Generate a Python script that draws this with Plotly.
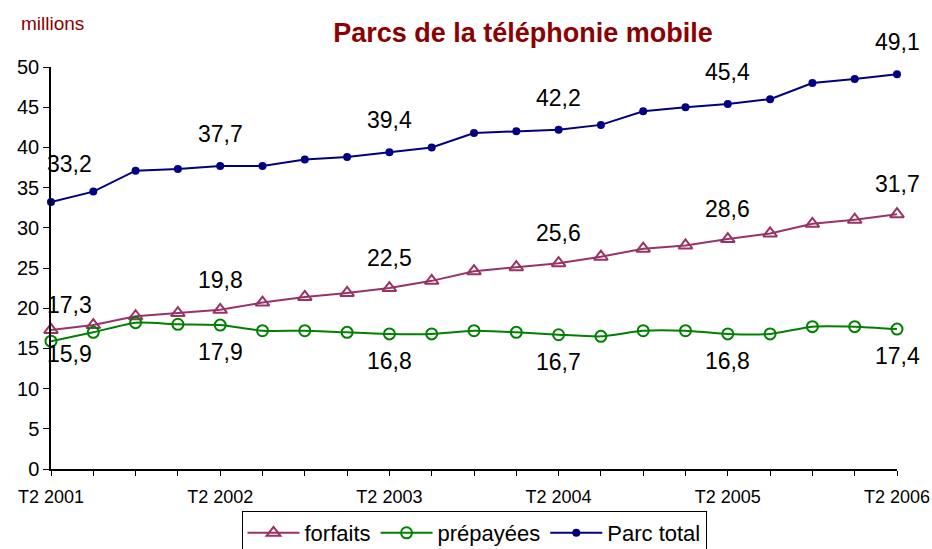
import plotly.graph_objects as go

quarters = ["T2 2001", "T3 2001", "T4 2001", "T1 2002", "T2 2002", "T3 2002", "T4 2002",
            "T1 2003", "T2 2003", "T3 2003", "T4 2003", "T1 2004", "T2 2004", "T3 2004",
            "T4 2004", "T1 2005", "T2 2005", "T3 2005", "T4 2005", "T1 2006", "T2 2006"]
tick_labels = ["T2 2001", "T2 2002", "T2 2003", "T2 2004", "T2 2005", "T2 2006"]

forfaits = [17.3, 17.9, 19.0, 19.4, 19.8, 20.7, 21.4, 21.9, 22.5, 23.4, 24.6, 25.1, 25.6,
            26.4, 27.4, 27.8, 28.6, 29.3, 30.5, 31.0, 31.7]
prepayees = [15.9, 17.0, 18.2, 18.0, 17.9, 17.2, 17.2, 17.0, 16.8, 16.8, 17.2, 17.0, 16.7,
             16.5, 17.2, 17.2, 16.8, 16.8, 17.7, 17.7, 17.4]
parc_total = [33.2, 34.5, 37.1, 37.3, 37.7, 37.7, 38.5, 38.8, 39.4, 40.0, 41.8, 42.0, 42.2,
              42.8, 44.5, 45.0, 45.4, 46.0, 48.0, 48.5, 49.1]
label_idx = [0, 4, 8, 12, 16, 20]

x = list(range(len(quarters)))

C_FORF = "#993366"
C_PREP = "#008000"
C_TOT = "#000080"
FONT = "Liberation Sans, Arial, sans-serif"

W, H = 932, 549
ML, MR, MT, MB = 51, 35, 67, 80
PW, PH = W - ML - MR, H - MT - MB

fig = go.Figure()
fig.add_trace(go.Scatter(
    x=x, y=forfaits, name="forfaits", mode="lines+markers",
    line=dict(color=C_FORF, width=2),
    marker=dict(symbol="triangle-up-open", size=12, color=C_FORF, line=dict(width=2)),
    cliponaxis=False, hovertext=quarters))
fig.add_trace(go.Scatter(
    x=x, y=prepayees, name="prépayées", mode="lines+markers",
    line=dict(color=C_PREP, width=2, shape="spline", smoothing=0.6),
    marker=dict(symbol="circle-open", size=11, color=C_PREP, line=dict(width=2)),
    cliponaxis=False, hovertext=quarters))
fig.add_trace(go.Scatter(
    x=x, y=parc_total, name="Parc total", mode="lines+markers",
    line=dict(color=C_TOT, width=2),
    marker=dict(symbol="circle", size=8, color=C_TOT),
    cliponaxis=False, hovertext=quarters))

def fmt(v):
    return f"{v:.1f}".replace(".", ",")

# (series, vertical shift of first label, vertical shift of the other labels)
for series, ysh0, ysh in ((parc_total, 38, 32), (forfaits, 25, 30), (prepayees, -13, -27)):
    for k, i in enumerate(label_idx):
        fig.add_annotation(
            x=x[i], y=series[i], text=fmt(series[i]), showarrow=False,
            xshift=18 if k == 0 else 0, yshift=ysh0 if k == 0 else ysh,
            font=dict(family=FONT, size=23, color="black"))

# "millions" unit label, top-left
fig.add_annotation(
    x=(52 - ML) / PW, y=(H - MB - 23) / PH, xref="paper", yref="paper",
    text="millions", showarrow=False, xanchor="center", yanchor="middle",
    font=dict(family=FONT, size=19, color="#8B0000"))

fig.update_layout(
    width=W, height=H,
    margin=dict(l=ML, r=MR, t=MT, b=MB, autoexpand=False),
    paper_bgcolor="white", plot_bgcolor="white",
    title=dict(text="<b>Parcs de la téléphonie mobile</b>", x=523 / W, xanchor="center",
               xref="container", y=1 - 33 / H, yanchor="middle",
               font=dict(family=FONT, size=27, color="#8B0000")),
    showlegend=True,
    legend=dict(orientation="h", x=0.5, xanchor="center", y=1 - 511 / H, yanchor="top",
                yref="container",
                bordercolor="black", borderwidth=1, bgcolor="white",
                font=dict(family=FONT, size=22, color="black"),
                itemwidth=52, traceorder="normal"),
    font=dict(family=FONT, color="black"),
)
fig.update_xaxes(
    range=[0, 20], tickmode="array", tickvals=label_idx, ticktext=tick_labels,
    showline=True, linecolor="black", linewidth=1.5, ticks="outside", ticklen=5,
    tickcolor="black", showgrid=False, zeroline=False, automargin=False,
    ticklabelstandoff=6,
    minor=dict(tickmode="array", tickvals=x, ticks="outside", ticklen=5, tickcolor="black"),
    tickfont=dict(family=FONT, size=18, color="black"))
fig.update_yaxes(
    range=[0, 50], dtick=5, showline=True, linecolor="black", linewidth=1.5,
    ticks="outside", ticklen=6, tickcolor="black", showgrid=False, zeroline=False,
    automargin=False,
    tickfont=dict(family=FONT, size=20, color="black"))

fig.write_html("out.html", config={"displayModeBar": False},
               post_script="document.body.style.margin='0';document.body.style.overflow='hidden';")
